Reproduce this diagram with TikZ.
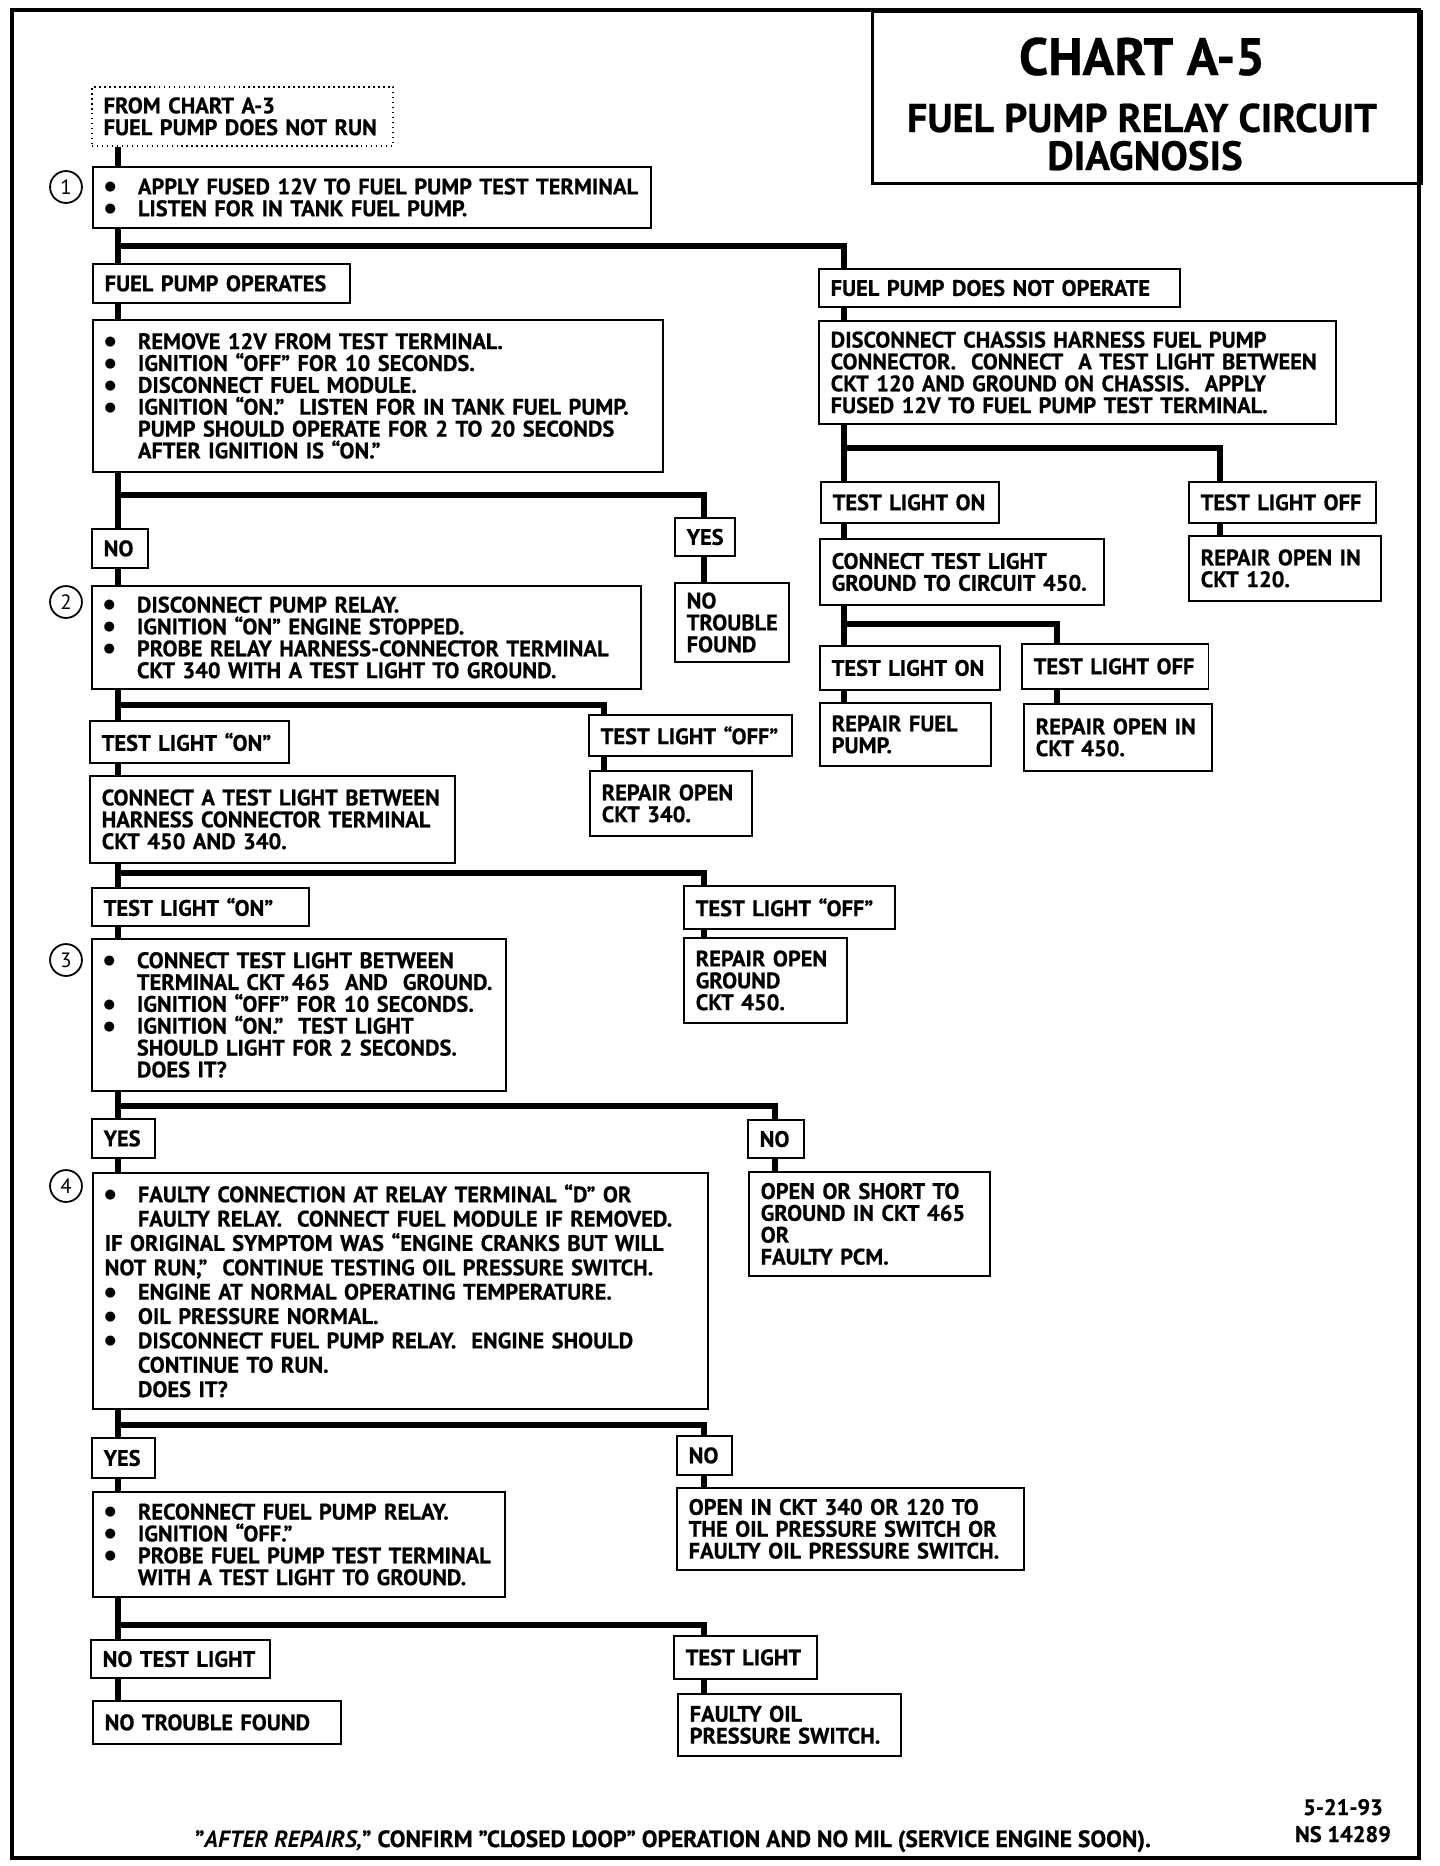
\documentclass[tikz,border=0pt]{standalone}
\usepackage{fontspec}
\setmainfont{PT Sans}[BoldFeatures={FakeBold=0.6}]
\newfontfamily\dotfont{DejaVu Sans}
\usetikzlibrary{calc}
\newcommand{\bu}{\makebox[24pt][l]{\raisebox{2.6pt}{\dotfont\fontsize{9.5}{9.5}\selectfont ●}}}
\newcommand{\indl}{\hspace*{24pt}}

\begin{document}
\begin{tikzpicture}[x=2.54cm,y=-2.54cm,line join=miter,
 font=\fontsize{16.2}{15.8}\selectfont\bfseries,
 box/.style={draw,line width=1.3pt,anchor=north west,align=left,inner xsep=0.3cm,inner ysep=0pt},
 from/.style={box,dash pattern=on 1.2pt off 2.4pt,line width=1.2pt},
 link/.style={line width=4.5pt},
 num/.style={circle,draw,line width=1.3pt,minimum size=0.81cm,inner sep=0pt,font=\fontsize{15}{15}\selectfont\mdseries},
 frame/.style={line width=2.6pt}]
\useasboundingbox (0,0) rectangle (14.40,18.66);
\draw[frame] (0.12,0.10) rectangle (14.19,18.58);
% title
\node[draw,line width=2pt,anchor=north west,minimum width=13.94cm,minimum height=4.37cm] (tbox) at (8.71,0.10) {};
\node[anchor=base,font=\fontsize{38}{38}\selectfont\bfseries] (t1) at (11.42,0.75) {CHART A-5};
\node[anchor=base,font=\fontsize{29}{29}\selectfont\bfseries] (t2) at (11.42,1.32) {FUEL PUMP RELAY CIRCUIT};
\node[anchor=base,font=\fontsize{29.5}{29.5}\selectfont\bfseries] (t3) at (11.45,1.70) {DIAGNOSIS};
% columns of the connectors
\coordinate (tx) at (1.18,0);
\coordinate (rx) at (8.44,0);
\coordinate (yx) at (7.04,0);
\coordinate (gx) at (6.04,0);
\coordinate (nx) at (7.75,0);
\coordinate (sx) at (12.20,0);
\coordinate (ux) at (10.57,0);
% left column
\node[from,text width=7.05cm,minimum height=1.50cm] (start) at (0.91,0.86) {FROM CHART A-3\\FUEL PUMP DOES NOT RUN};
\node[num] (n1) at (0.66,1.87) {1};
\node[box,text width=13.57cm,minimum height=1.55cm] (b1) at (0.92,1.66) {\bu APPLY FUSED 12V TO FUEL PUMP TEST TERMINAL\\\bu LISTEN FOR IN TANK FUEL PUMP.};
\node[box,text width=5.93cm,minimum height=0.99cm] (opr) at (0.92,2.63) {FUEL PUMP OPERATES};
\node[box,text width=13.88cm,minimum height=3.86cm] (ba) at (0.92,3.19) {\bu REMOVE 12V FROM TEST TERMINAL.\\\bu IGNITION “OFF” FOR 10 SECONDS.\\\bu DISCONNECT FUEL MODULE.\\\bu IGNITION “ON.”\ \ LISTEN FOR IN TANK FUEL PUMP.\\\indl PUMP SHOULD OPERATE FOR 2 TO 20 SECONDS\\\indl AFTER IGNITION IS “ON.”};
\node[box,text width=0.82cm,minimum height=0.99cm] (noa) at (0.91,5.28) {NO};
\node[box,text width=0.92cm,minimum height=0.97cm] (yesa) at (6.74,5.17) {YES};
\node[box,text width=2.30cm,minimum height=2.01cm] (ntfa) at (6.74,5.82) {NO\\TROUBLE\\FOUND};
\node[num] (n2) at (0.66,6.02) {2};
\node[box,text width=13.34cm,minimum height=2.62cm] (b2) at (0.91,5.85) {\bu DISCONNECT PUMP RELAY.\\\bu IGNITION “ON” ENGINE STOPPED.\\\bu PROBE RELAY HARNESS-CONNECTOR TERMINAL\\\indl CKT 340 WITH A TEST LIGHT TO GROUND.};
\node[box,text width=4.45cm,minimum height=1.07cm] (tlona) at (0.89,7.20) {TEST LIGHT “ON”};
\node[box,text width=4.56cm,minimum height=1.04cm] (tloffa) at (5.88,7.14) {TEST LIGHT “OFF”};
\node[box,text width=3.51cm,minimum height=1.65cm] (rep340) at (5.89,7.70) {REPAIR OPEN\\CKT 340.};
\node[box,text width=8.67cm,minimum height=2.21cm] (connab) at (0.89,7.75) {CONNECT A TEST LIGHT BETWEEN\\HARNESS CONNECTOR TERMINAL\\CKT 450 AND 340.};
\node[box,text width=4.91cm,minimum height=0.97cm] (tlonb) at (0.91,8.87) {TEST LIGHT “ON”};
\node[box,text width=4.76cm,minimum height=1.09cm] (tloffb) at (6.83,8.85) {TEST LIGHT “OFF”};
\node[box,text width=3.54cm,minimum height=2.16cm] (repgnd) at (6.83,9.37) {REPAIR OPEN\\GROUND\\CKT 450.};
\node[num] (n3) at (0.66,9.60) {3};
\node[box,text width=9.92cm,minimum height=3.86cm] (b3) at (0.91,9.38) {\bu CONNECT TEST LIGHT BETWEEN\\\indl TERMINAL CKT 465\ \ AND\ \ GROUND.\\\bu IGNITION “OFF” FOR 10 SECONDS.\\\bu IGNITION “ON.”\ \ TEST LIGHT\\\indl SHOULD LIGHT FOR 2 SECONDS.\\\indl DOES IT?};
\node[box,text width=1.00cm,minimum height=0.99cm] (yesc) at (0.91,11.18) {YES};
\node[box,text width=0.82cm,minimum height=0.97cm] (noc) at (7.47,11.19) {NO};
\node[box,text width=5.52cm,minimum height=2.64cm] (open465) at (7.48,11.71) {OPEN OR SHORT TO\\GROUND IN CKT 465\\OR\\FAULTY PCM.};
\node[num] (n4) at (0.66,11.86) {4};
\node[box,text width=15.02cm,minimum height=5.99cm,font=\fontsize{16.2}{17.6}\selectfont\bfseries] (b4) at (0.92,11.72) {\bu FAULTY CONNECTION AT RELAY TERMINAL “D” OR\\\indl FAULTY RELAY.\ \ CONNECT FUEL MODULE IF REMOVED.\\IF ORIGINAL SYMPTOM WAS “ENGINE CRANKS BUT WILL\\NOT RUN,”\ \ CONTINUE TESTING OIL PRESSURE SWITCH.\\\bu ENGINE AT NORMAL OPERATING TEMPERATURE.\\\bu OIL PRESSURE NORMAL.\\\bu DISCONNECT FUEL PUMP RELAY.\ \ ENGINE SHOULD\\\indl CONTINUE TO RUN.\\\indl DOES IT?};
\node[box,text width=1.00cm,minimum height=1.02cm] (yesd) at (0.91,14.37) {YES};
\node[box,text width=0.80cm,minimum height=0.99cm] (nod) at (6.76,14.35) {NO};
\node[box,text width=8.21cm,minimum height=2.08cm] (open340) at (6.76,14.87) {OPEN IN CKT 340 OR 120 TO\\THE OIL PRESSURE SWITCH OR\\FAULTY OIL PRESSURE SWITCH.};
\node[box,text width=9.86cm,minimum height=2.67cm] (b5) at (0.92,14.91) {\bu RECONNECT FUEL PUMP RELAY.\\\bu IGNITION “OFF.”\\\bu PROBE FUEL PUMP TEST TERMINAL\\\indl WITH A TEST LIGHT TO GROUND.};
\node[box,text width=3.95cm,minimum height=0.97cm] (ntl) at (0.90,16.39) {NO TEST LIGHT};
\node[box,text width=3.03cm,minimum height=1.09cm] (tld) at (6.73,16.35) {TEST LIGHT};
\node[box,text width=5.70cm,minimum height=1.09cm] (ntf) at (0.92,17.00) {NO TROUBLE FOUND};
\node[box,text width=5.06cm,minimum height=1.57cm] (oil) at (6.77,16.93) {FAULTY OIL\\PRESSURE SWITCH.};
% right column
\node[box,text width=8.57cm,minimum height=0.97cm] (nopr) at (8.18,2.68) {FUEL PUMP DOES NOT OPERATE};
\node[box,text width=12.53cm,minimum height=2.62cm] (bb) at (8.18,3.20) {DISCONNECT CHASSIS HARNESS FUEL PUMP\\CONNECTOR.\ \ CONNECT\ \ A TEST LIGHT BETWEEN\\CKT 120 AND GROUND ON CHASSIS.\ \ APPLY\\FUSED 12V TO FUEL PUMP TEST TERMINAL.};
\node[box,text width=3.92cm,minimum height=1.04cm] (tlonr) at (8.20,4.81) {TEST LIGHT ON};
\node[box,text width=4.16cm,minimum height=1.04cm] (tloffr) at (11.88,4.81) {TEST LIGHT OFF};
\node[box,text width=4.28cm,minimum height=1.65cm] (rep120) at (11.88,5.35) {REPAIR OPEN IN\\CKT 120.};
\node[box,text width=6.61cm,minimum height=1.68cm] (conn450) at (8.19,5.38) {CONNECT TEST LIGHT\\GROUND TO CIRCUIT 450.};
\node[box,text width=3.97cm,minimum height=1.12cm] (tlon2) at (8.19,6.45) {TEST LIGHT ON};
\node[box,text width=4.14cm,minimum height=1.14cm] (tloff2) at (10.21,6.43) {TEST LIGHT OFF};
\node[box,text width=3.74cm,minimum height=1.60cm] (repfp) at (8.19,7.02) {REPAIR FUEL\\PUMP.};
\node[box,text width=4.18cm,minimum height=1.70cm] (rep450) at (10.23,7.03) {REPAIR OPEN IN\\CKT 450.};
% junctions
\coordinate (j1) at (1.18,2.46);
\coordinate (j2) at (1.18,4.95);
\coordinate (j3) at (1.18,7.05);
\coordinate (j4) at (1.18,8.73);
\coordinate (j5) at (1.18,11.06);
\coordinate (j6) at (1.18,14.25);
\coordinate (j7) at (1.18,16.25);
\coordinate (k1) at (8.44,4.48);
\coordinate (k2) at (8.44,6.24);
% trunk
\draw[link] (start.south -| tx) -- (b1.north -| tx);
\draw[link] (b1.south -| tx) -- (opr.north -| tx);
\draw[link] (j1) -| (nopr.north -| rx);
\draw[link] (opr.south -| tx) -- (ba.north -| tx);
\draw[link] (ba.south -| tx) -- (noa.north -| tx);
\draw[link] (j2) -| (yesa.north -| yx);
\draw[link] (yesa.south -| yx) -- (ntfa.north -| yx);
\draw[link] (noa.south -| tx) -- (b2.north -| tx);
\draw[link] (b2.south -| tx) -- (tlona.north -| tx);
\draw[link] (j3) -| (tloffa.north -| gx);
\draw[link] (tloffa.south -| gx) -- (rep340.north -| gx);
\draw[link] (tlona.south -| tx) -- (connab.north -| tx);
\draw[link] (connab.south -| tx) -- (tlonb.north -| tx);
\draw[link] (j4) -| (tloffb.north -| yx);
\draw[link] (tloffb.south -| yx) -- (repgnd.north -| yx);
\draw[link] (tlonb.south -| tx) -- (b3.north -| tx);
\draw[link] (b3.south -| tx) -- (yesc.north -| tx);
\draw[link] (j5) -| (noc.north -| nx);
\draw[link] (noc.south -| nx) -- (open465.north -| nx);
\draw[link] (yesc.south -| tx) -- (b4.north -| tx);
\draw[link] (b4.south -| tx) -- (yesd.north -| tx);
\draw[link] (j6) -| (nod.north -| yx);
\draw[link] (nod.south -| yx) -- (open340.north -| yx);
\draw[link] (yesd.south -| tx) -- (b5.north -| tx);
\draw[link] (b5.south -| tx) -- (ntl.north -| tx);
\draw[link] (j7) -| (tld.north -| yx);
\draw[link] (tld.south -| yx) -- (oil.north -| yx);
\draw[link] (ntl.south -| tx) -- (ntf.north -| tx);
% right side
\draw[link] (nopr.south -| rx) -- (bb.north -| rx);
\draw[link] (bb.south -| rx) -- (tlonr.north -| rx);
\draw[link] (k1) -| (tloffr.north -| sx);
\draw[link] (tloffr.south -| sx) -- (rep120.north -| sx);
\draw[link] (tlonr.south -| rx) -- (conn450.north -| rx);
\draw[link] (conn450.south -| rx) -- (tlon2.north -| rx);
\draw[link] (k2) -| (tloff2.north -| ux);
\draw[link] (tlon2.south -| rx) -- (repfp.north -| rx);
\draw[link] (tloff2.south -| ux) -- (rep450.north -| ux);
% footer
\node[anchor=base,font=\fontsize{17}{17}\selectfont\bfseries] (foot) at (6.73,18.47) {"\textit{AFTER REPAIRS,}" CONFIRM "CLOSED LOOP" OPERATION AND NO MIL (SERVICE ENGINE SOON).};
\node[anchor=base] (date) at (13.43,18.15) {5-21-93};
\node[anchor=base] (ref) at (13.43,18.42) {NS 14289};
\end{tikzpicture}
\end{document}
